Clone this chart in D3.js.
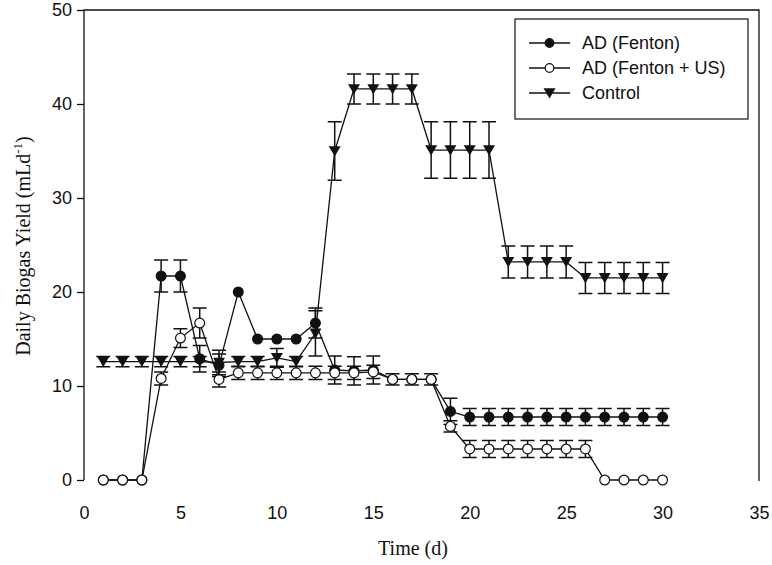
<!DOCTYPE html>
<html><head><meta charset="utf-8">
<script src="https://cdn.jsdelivr.net/npm/d3@7"></script>
<style>body{margin:0;background:#fff}svg{display:block}</style>
</head><body>
<svg id="c" width="772" height="565"></svg>
<script>
const days = [1,2,3,4,5,6,7,8,9,10,11,12,13,14,15,16,17,18,19,20,21,22,23,24,25,26,27,28,29,30];
const fenton = [0,0,0,21.7,21.7,12.9,12.2,20.0,15.0,15.0,15.0,16.7,11.7,11.6,11.7,10.7,10.7,10.7,7.3,6.7,6.7,6.7,6.7,6.7,6.7,6.7,6.7,6.7,6.7,6.7];
const fentonErr = [0,0,0,1.7,1.7,1.4,1.2,0,0,0,0,1.6,1.5,1.5,1.5,0,0,0,1.4,0.9,0.9,0.9,0.9,0.9,0.9,0.9,0.9,0.9,0.9,0.9];
const fentonUS = [0,0,0,10.8,15.1,16.7,10.7,11.4,11.4,11.4,11.4,11.4,11.4,11.4,11.5,10.7,10.7,10.7,5.7,3.3,3.3,3.3,3.3,3.3,3.3,3.3,0,0,0,0];
const fentonUSErr = [0,0,0,0.7,1.0,1.6,0.8,0.7,0.7,0.7,0.7,0.7,0.7,0.7,0.7,0.6,0.6,0.6,0.6,0.9,0.9,0.9,0.9,0.9,0.9,0.9,0,0,0,0];
const control = [12.6,12.6,12.6,12.6,12.6,12.6,12.5,12.6,12.6,13.0,12.6,15.6,35.0,41.6,41.6,41.6,41.6,35.1,35.1,35.1,35.1,23.2,23.2,23.2,23.2,21.5,21.5,21.5,21.5,21.5];
const controlErr = [0.55,0.55,0.55,0.55,0.55,0.55,1.3,0.55,0.55,1.0,0.55,2.4,3.1,1.6,1.6,1.6,1.6,3.0,3.0,3.0,3.0,1.7,1.7,1.7,1.7,1.65,1.65,1.65,1.65,1.65];
const xTicks = [0,5,10,15,20,25,30,35];
const yTicks = [0,10,20,30,40,50];
const seriesNames = ["AD (Fenton)","AD (Fenton + US)","Control"];

const svg = d3.select("#c");
const x = d3.scaleLinear().domain([0,35]).range([84,759]);
const y = d3.scaleLinear().domain([0,50]).range([480,10]);
const ink = "#111";

// frame: left, top, right
const g = svg.append("g");
g.append("path").attr("d",`M${x(0)},${y(0)}V${y(50)}H${x(35)}V${y(0)+1}`)
  .attr("fill","none").attr("stroke",ink).attr("stroke-width",1.3);

// y axis
const yAxis = d3.axisLeft(y).tickValues(yTicks).tickSize(7).tickPadding(5).tickFormat(d3.format("d"));
const ya = svg.append("g").attr("transform",`translate(${x(0)},0)`).call(yAxis);
ya.select(".domain").remove();
ya.selectAll("line").attr("stroke",ink).attr("stroke-width",1.3);
ya.selectAll("text").attr("font-family","Liberation Sans, Arial, sans-serif").attr("font-size",18).attr("fill",ink);

// x axis labels (no line, no ticks)
const xAxis = d3.axisBottom(x).tickValues(xTicks).tickSize(0).tickPadding(0).tickFormat(d3.format("d"));
const xa = svg.append("g").attr("transform",`translate(0,506)`).call(xAxis);
xa.select(".domain").remove();
xa.selectAll("line").remove();
xa.selectAll("text").attr("font-family","Liberation Sans, Arial, sans-serif").attr("font-size",18).attr("fill",ink);

// titles
svg.append("text").attr("x",413).attr("y",555).attr("text-anchor","middle")
  .attr("font-family","Liberation Serif, Times New Roman, serif").attr("font-size",20).attr("fill",ink).text("Time (d)");
const yt = svg.append("text").attr("transform","translate(30,246) rotate(-90)").attr("text-anchor","middle")
  .attr("font-family","Liberation Serif, Times New Roman, serif").attr("font-size",20).attr("fill",ink);
yt.append("tspan").text("Daily Biogas Yield (mLd");
yt.append("tspan").attr("dy",-8).attr("font-size",13).text("-1");
yt.append("tspan").attr("dy",8).text(")");

const series = [
  {vals: fenton, err: fentonErr, sym: "filled"},
  {vals: fentonUS, err: fentonUSErr, sym: "open"},
  {vals: control, err: controlErr, sym: "tri"}
];
const line = d3.line().x(d=>x(d[0])).y(d=>y(d[1]));

function drawMarker(sel, sym, cx, cy, r) {
  if (sym === "tri") {
    sel.append("path").attr("d", "M-6,-4.8L6,-4.8L0,5.4Z").attr("transform",`translate(${cx},${cy})`).attr("fill",ink);
  } else {
    sel.append("circle").attr("cx",cx).attr("cy",cy).attr("r",r)
      .attr("fill", sym==="filled" ? ink : "#fff").attr("stroke",ink).attr("stroke-width",1.2);
  }
}

series.forEach(s => {
  const pts = days.map((d,i)=>[d, s.vals[i], s.err[i]]);
  const sg = svg.append("g");
  sg.append("path").datum(pts).attr("d",line).attr("fill","none").attr("stroke",ink).attr("stroke-width",1.3);
  pts.filter(p=>p[2]>0).forEach(p=>{
    const cx = x(p[0]), y1 = y(p[1]+p[2]), y2 = y(p[1]-p[2]);
    sg.append("path").attr("d",`M${cx},${y1}V${y2}M${cx-7},${y1}H${cx+7}M${cx-7},${y2}H${cx+7}`)
      .attr("stroke",ink).attr("stroke-width",1.5).attr("fill","none");
  });
  pts.forEach(p=> drawMarker(sg, s.sym, x(p[0]), y(p[1]), 4.9));
});

// legend
const lg = svg.append("g");
lg.append("rect").attr("x",515).attr("y",19).attr("width",233).attr("height",100)
  .attr("fill","#fff").attr("stroke",ink).attr("stroke-width",1.2);
seriesNames.forEach((name,i)=>{
  const ly = 43 + i*25;
  lg.append("line").attr("x1",529).attr("x2",570).attr("y1",ly).attr("y2",ly).attr("stroke",ink).attr("stroke-width",1.3);
  drawMarker(lg, series[i].sym, 549.5, ly, 4.3);
  lg.append("text").attr("x",582).attr("y",ly).attr("dy","0.36em")
    .attr("font-family","Liberation Sans, Arial, sans-serif").attr("font-size",18).attr("fill",ink).text(name);
});
</script>
</body></html>
